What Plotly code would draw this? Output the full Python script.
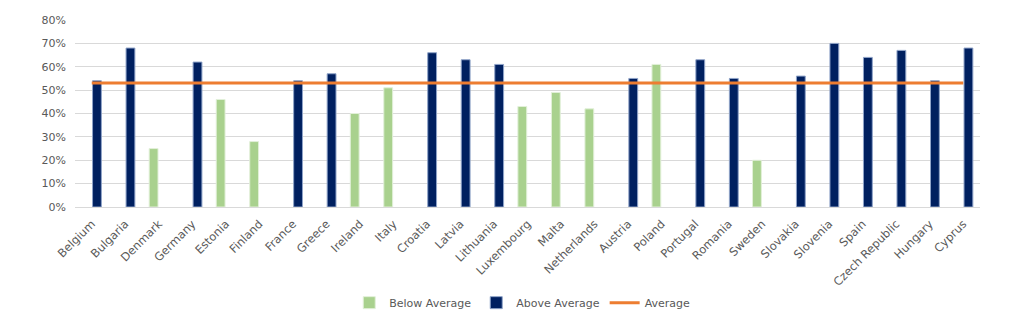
import plotly.graph_objects as go

countries = ["Belgium", "Bulgaria", "Denmark", "Germany", "Estonia", "Finland", "France",
             "Greece", "Ireland", "Italy", "Croatia", "Latvia", "Lithuania", "Luxembourg",
             "Malta", "Netherlands", "Austria", "Poland", "Portugal", "Romania", "Sweden",
             "Slovakia", "Slovenia", "Spain", "Czech Republic", "Hungary", "Cyprus"]

below_average = [None, None, 0.25, None, 0.46, 0.28, None, None, 0.40, 0.51, None, None, None,
                 0.43, 0.49, 0.42, None, 0.61, None, None, 0.20, None, None, None, None, None, None]
above_average = [0.54, 0.68, None, 0.62, None, None, 0.54, 0.57, None, None, 0.66, 0.63, 0.61,
                 None, None, None, 0.55, None, 0.63, 0.55, None, 0.56, 0.70, 0.64, 0.67, 0.54, 0.68]
average = [0.53] * len(countries)

y_ticks = [0, 0.1, 0.2, 0.3, 0.4, 0.5, 0.6, 0.7, 0.8]

fig = go.Figure()
fig.add_trace(go.Bar(x=countries, y=below_average, name="Below Average",
                     marker=dict(color="#a9d18e", line=dict(color="#e2f0d9", width=1))))
fig.add_trace(go.Bar(x=countries, y=above_average, name="Above Average",
                     marker=dict(color="#002060", line=dict(color="#8fa3c8", width=1))))
fig.add_trace(go.Scatter(x=countries, y=average, name="Average", mode="lines",
                         line=dict(color="#ed7d31", width=3)))

fig.update_layout(
    width=1024, height=321,
    margin=dict(l=75, r=44, t=20, b=114),
    paper_bgcolor="white", plot_bgcolor="white",
    font=dict(family="DejaVu Sans", size=11, color="#595959"),
    barmode="group", bargap=0.38, bargroupgap=0.15,
    showlegend=True,
    legend=dict(orientation="h", xref="container", x=0.51, xanchor="center",
                yref="container", y=0.012, yanchor="bottom",
                font=dict(size=11, color="#595959"), traceorder="normal"),
    xaxis=dict(tickangle=-45, showgrid=False, showline=False, ticks="",
               automargin=False, ticklabelstandoff=7,
               tickfont=dict(size=11.5, color="#595959")),
    yaxis=dict(range=[0, 0.8], tickvals=y_ticks, tickformat=".0%",
               automargin=False, ticklabelstandoff=8,
               showgrid=True, gridcolor="#d9d9d9", gridwidth=1,
               zeroline=True, zerolinecolor="#d9d9d9", zerolinewidth=1,
               showline=False, ticks="", ticklen=0,
               tickfont=dict(size=11, color="#595959")),
)

fig.write_html("out.html")
